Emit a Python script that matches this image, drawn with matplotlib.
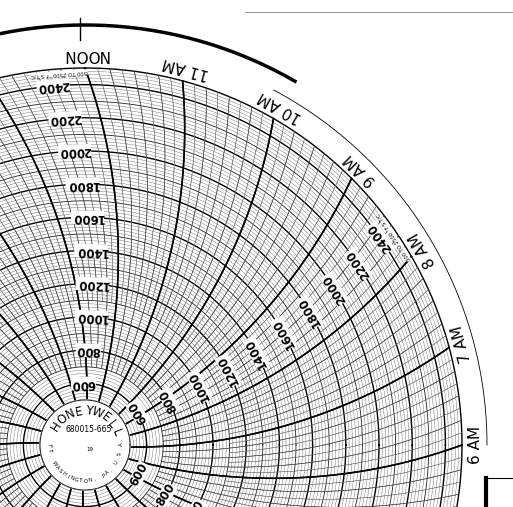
import numpy as np
import matplotlib.pyplot as plt

# chart paper: 24 h circular chart, 500..2500 F
temp_min, temp_max = 500, 2500
minor_temp_step = 20
label_temps = [600, 800, 1000, 1200, 1400, 1600, 1800, 2000, 2200, 2400]
hour_names = ["NOON", "11 AM", "10 AM", "9 AM", "8 AM", "7 AM", "6 AM", "5 AM"]
label_hours = [0, 4, 8]   # hours before noon whose line carries the scale labels

cx, cy = 85.0, 445.0
r_in, r_out = 45.0, 377.0
arm = 550.0

fig = plt.figure(figsize=(5.13, 5.07), dpi=100)
ax = fig.add_axes([0, 0, 1, 1])
ax.set_xlim(0, 513)
ax.set_ylim(507, 0)
ax.axis('off')


def temp_r(t):
    return r_in + (t - temp_min) / (temp_max - temp_min) * (r_out - r_in)


def to_xy(r, phi_deg):
    p = np.radians(phi_deg)
    return cx + r * np.cos(p), cy - r * np.sin(p)


def time_phi(r, hour_angle):
    # pen arm arc: outer end sits at the hour angle
    off = np.degrees(np.arcsin(r / (2 * arm))) - np.degrees(np.arcsin(r_out / (2 * arm)))
    return hour_angle + off


phis = np.linspace(0, 360, 1500)

# temperature circles
for t in range(temp_min, temp_max + 1, minor_temp_step):
    r = temp_r(t)
    if t % 200 == 0 or t in (temp_min, temp_max):
        col, lw = 'black', 1.0
    elif t % 100 == 0:
        col, lw = '#222222', 0.6
    else:
        col, lw = '#666666', 0.3
    x, y = to_xy(r, phis)
    ax.plot(x, y, color=col, lw=lw, zorder=2)

# time arcs, 15 deg per hour, 8 divisions per hour
for k in range(-24 * 8, 24 * 8):
    ha = 90 - k * 15 / 8
    if k % 8 == 0:
        r0, lw, col = r_in, 1.1, 'black'
    elif k % 2 == 0:
        r0, lw, col = temp_r(700), 0.4, '#444444'
    else:
        r0, lw, col = temp_r(1100), 0.3, '#666666'
    rr = np.linspace(r0, r_out, 200)
    x, y = to_xy(rr, time_phi(rr, ha))
    ax.plot(x, y, color=col, lw=lw, zorder=2)

# hub
ax.add_patch(plt.Circle((cx, cy), r_in, color='white', zorder=3))
ax.plot(*to_xy(r_in, phis), color='black', lw=0.6, zorder=4)


def curved(text, r, phi_c, spacing, size, top=True):
    n = len(text)
    for i, ch in enumerate(text):
        if top:
            phi = phi_c + (n / 2 - i - 0.5) * spacing
            rot = phi - 90
        else:
            phi = phi_c - (n / 2 - i - 0.5) * spacing
            rot = phi + 90
        x, y = to_xy(r, phi)
        ax.text(x, y, ch, fontsize=size, rotation=rot, ha='center', va='center', zorder=5)


curved("HONEYWELL", 34, 84, 15.5, 8.5)
ax.text(cx + 4, cy - 16, "680015-665", fontsize=5.5, ha='center', va='center', zorder=5)
curved("FT. WASHINGTON, PA. U.S.A.", 36, 275, 7.5, 3.8, top=False)
ax.text(cx + 5, cy + 6, "19", fontsize=4, ha='center', zorder=5)

# scale labels along some hour lines
for h in label_hours:
    ha = 90 - h * 15
    for t in label_temps:
        r = temp_r(t)
        off_px = 16 + 0.06 * r
        phi = time_phi(r, ha) + np.degrees(off_px / r)
        x, y = to_xy(r, phi)
        ax.text(x, y, str(t), fontsize=8.5, fontweight='bold', rotation=phi + 90,
                ha='center', va='center',
                bbox=dict(facecolor='white', edgecolor='none', pad=0.2), zorder=5)
    phi = ha + 4
    x, y = to_xy(r_out - 5, phi)
    ax.text(x, y, "500 TO 2500 °F S T/C", fontsize=3.8, rotation=phi + 90,
            ha='center', va='center', bbox=dict(facecolor='white', edgecolor='none', pad=0.2), zorder=5)

# hour names
for i, name in enumerate(hour_names):
    ha = 90 - i * 15
    x, y = to_xy(390, ha)
    ax.text(x, y, name, fontsize=11, rotation=ha + 90, ha='center', va='center', zorder=5)

# outer rim
arc_phi = np.linspace(0, 62, 200)
ax.plot(*to_xy(402, arc_phi), color='black', lw=0.6)
arc_phi = np.linspace(60, 125, 200)
ax.plot(*to_xy(420, arc_phi), color='black', lw=2.5)
ax.plot([80, 80], [18, 40], color='black', lw=1.0)
ax.plot([245, 513], [12, 12], color='gray', lw=0.6)
ax.plot([486, 486], [478, 507], color='black', lw=3)
ax.plot([486, 513], [478, 478], color='black', lw=0.8)

fig.savefig("out.png", dpi=100)
